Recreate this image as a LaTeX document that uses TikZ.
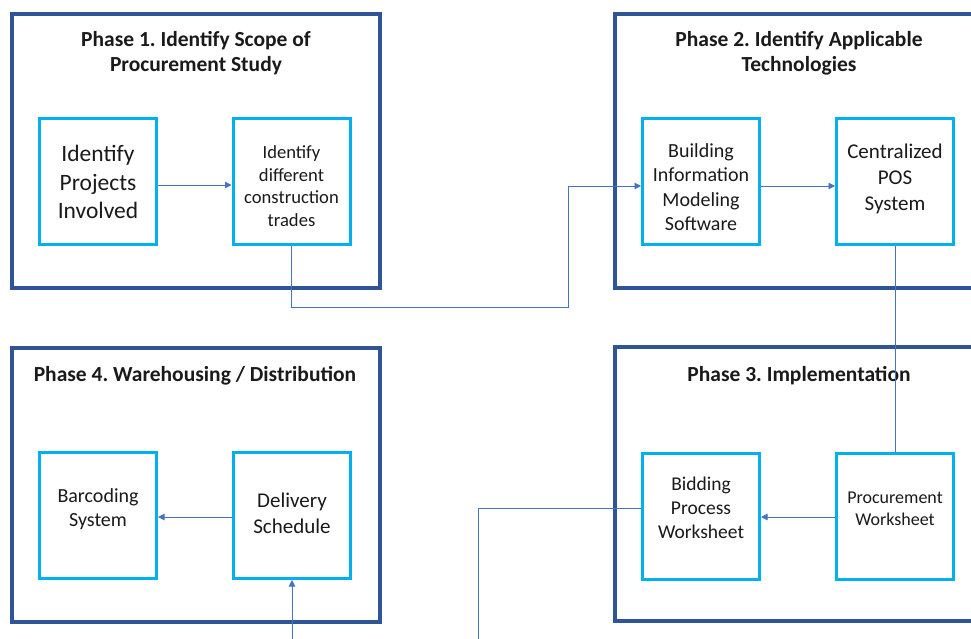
\documentclass[tikz,border=0pt]{standalone}
\usepackage{fontspec}
\setmainfont{Carlito}
\usetikzlibrary{arrows.meta}
\definecolor{phaseblue}{HTML}{2F5597}
\definecolor{stepcyan}{HTML}{00B0F0}
\definecolor{linkblue}{HTML}{4472C4}
\definecolor{inktext}{HTML}{1A1A1A}
\newcommand{\fs}[1]{\fontsize{#1}{1.22\dimexpr#1pt\relax}\selectfont}
\frenchspacing
\begin{document}
\begin{tikzpicture}[x=1pt,y=-1pt,
  phase/.style={draw=phaseblue, line width=4pt, fill=white, minimum width=368pt, minimum height=274pt, inner sep=0pt},
  stepbox/.style={draw=stepcyan, line width=3pt, fill=white, minimum width=117pt, minimum height=126pt, inner sep=0pt},
  txt/.style={align=center, text=inktext, inner sep=0pt},
  title/.style={align=center, text=inktext, inner sep=0pt, font=\bfseries\fontsize{21.5}{25}\selectfont},
  link/.style={draw=linkblue, line width=0.9pt},
  tip/.style={-{Triangle[length=6.5pt,width=6.5pt]}}
]
\useasboundingbox (0,0) rectangle (971,638);
\clip (0,0) rectangle (971,638);
\fill[white] (0,0) rectangle (971,638);

% phase frames
\node[phase] (p1) at (196,151) {};
\node[phase] (p2) at (799,151) {};
\node[phase] (p3) at (799,484) {};
\node[phase] (p4) at (196,485) {};

% phase titles
\node[title] (t1) at (196,53) {Phase 1. Identify Scope of\\Procurement Study};
\node[title] (t2) at (799,53) {Phase 2. Identify Applicable\\Technologies};
\node[title] (t3) at (799,376) {Phase 3. Implementation};
\node[title] (t4) at (195,376) {Phase 4. Warehousing / Distribution};

% step boxes
\node[stepbox] (proj) at (98,181.5) {};
\node[stepbox] (trades) at (291.5,181.5) {};
\node[stepbox] (bim) at (701,181.5) {};
\node[stepbox] (pos) at (895,181.5) {};
\node[stepbox] (bid) at (701,516) {};
\node[stepbox] (proc) at (895,516) {};
\node[stepbox] (bar) at (98,515.5) {};
\node[stepbox] (deliv) at (292,515.5) {};

% step labels
\node[txt, font=\fs{23.5}] (projtext) at (98,182) {Identify\\Projects\\Involved};
\node[txt, font=\fs{18.6}] (tradestext) at (291.5,186) {Identify\\different\\construction\\trades};
\node[txt, font=\fs{20}] (bimtext) at (701,187) {Building\\Information\\Modeling\\Software};
\node[txt, font=\fs{21}] (postext) at (895,179) {Centralized\\POS\\System};
\node[txt, font=\fs{19.5}] (bidtext) at (701,508) {Bidding\\Process\\Worksheet};
\node[txt, font=\fs{18}] (proctext) at (895,509) {Procurement\\Worksheet};
\node[txt, font=\fs{20}] (bartext) at (98,509) {Barcoding\\System};
\node[txt, font=\fs{21}] (delivtext) at (292,513) {Delivery\\Schedule};

% connectors
\coordinate (bend) at (568,307);
\coordinate (exitdown) at (478,660);
\coordinate (entryup) at (292,660);

\draw[link,tip] ([yshift=-3.5pt]proj.east) -- ([yshift=-3.5pt]trades.west);
\draw[link,tip] (trades.south) |- (bend) |- ([yshift=-4.5pt]bim.west);
\draw[link,tip] ([yshift=-4.5pt]bim.east) -- ([yshift=-4.5pt]pos.west);
\draw[link] (pos.south) -- (proc.north);
\draw[link,tip] ([yshift=-1pt]proc.west) -- ([yshift=-1pt]bid.east);
\draw[link] ([yshift=8pt]bid.west) -| (exitdown);
\draw[link,tip] ([yshift=-1.5pt]deliv.west) -- ([yshift=-1.5pt]bar.east);
\draw[link,tip] (entryup) -- (deliv.south);
\end{tikzpicture}
\end{document}
